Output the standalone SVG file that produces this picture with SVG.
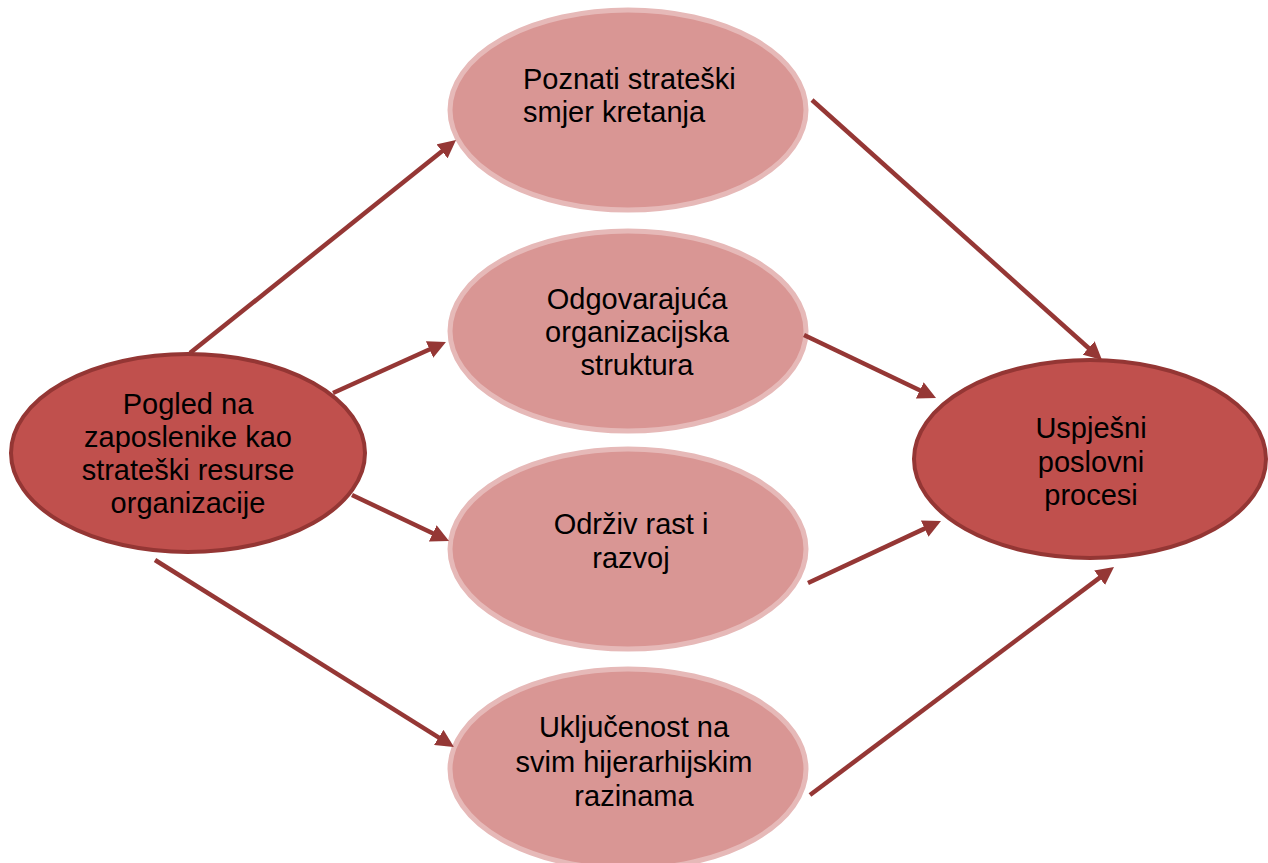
<svg xmlns="http://www.w3.org/2000/svg" width="1268" height="863" viewBox="0 0 1268 863">
<style>
.strong{fill:#c0504d;stroke:#943634;stroke-width:4}
.light{fill:#d99694;stroke:#e6b9b8;stroke-width:5}
.t{font-family:"Liberation Sans",Arial,sans-serif;font-size:29px;fill:#000}
.c{text-anchor:middle}
.conn line{stroke:#953735;stroke-width:4.5;marker-end:url(#ah)}
</style>
<defs>
<marker id="ah" markerUnits="userSpaceOnUse" viewBox="0 0 18 18" markerWidth="18" markerHeight="18" refX="4" refY="9" orient="auto">
<path d="M0,0 L18,9 L0,18 z" fill="#953735"/>
</marker>
</defs>
<rect width="1268" height="863" fill="#fff"/>
<g id="n1">
<ellipse class="light" cx="628" cy="110" rx="178" ry="100"/>
<text class="t" x="523" y="89">Poznati strateški</text>
<text class="t" x="523" y="122">smjer kretanja</text>
</g>
<g id="n2">
<ellipse class="light" cx="628" cy="331" rx="178" ry="100"/>
<text class="t c" x="637" y="309">Odgovarajuća</text>
<text class="t c" x="637" y="342">organizacijska</text>
<text class="t c" x="637" y="375">struktura</text>
</g>
<g id="n3">
<ellipse class="light" cx="628" cy="549" rx="178" ry="100"/>
<text class="t c" x="631" y="534">Održiv rast i</text>
<text class="t c" x="631" y="568">razvoj</text>
</g>
<g id="n4">
<ellipse class="light" cx="628" cy="769" rx="178" ry="100"/>
<text class="t c" x="634" y="737">Uključenost na</text>
<text class="t c" x="634" y="772">svim hijerarhijskim</text>
<text class="t c" x="634" y="806">razinama</text>
</g>
<g id="src">
<ellipse class="strong" cx="188" cy="453" rx="177" ry="99"/>
<text class="t c" x="188" y="414">Pogled na</text>
<text class="t c" x="188" y="447">zaposlenike kao</text>
<text class="t c" x="188" y="480">strateški resurse</text>
<text class="t c" x="188" y="513">organizacije</text>
</g>
<g id="dst">
<ellipse class="strong" cx="1090" cy="459" rx="176" ry="99"/>
<text class="t c" x="1091" y="438">Uspješni</text>
<text class="t c" x="1091" y="472">poslovni</text>
<text class="t c" x="1091" y="505">procesi</text>
</g>
<g id="connectors" class="conn">
<line x1="190" y1="353" x2="445.1" y2="148.8"/>
<line x1="333" y1="393" x2="433.2" y2="347.8"/>
<line x1="352" y1="495" x2="436.4" y2="535"/>
<line x1="155" y1="560" x2="442.1" y2="739.6"/>
<line x1="812" y1="100" x2="1091.6" y2="350.7"/>
<line x1="804" y1="335" x2="923.4" y2="392"/>
<line x1="808" y1="583" x2="928.3" y2="526.9"/>
<line x1="810" y1="795" x2="1102.8" y2="575.4"/>
</g>
</svg>
